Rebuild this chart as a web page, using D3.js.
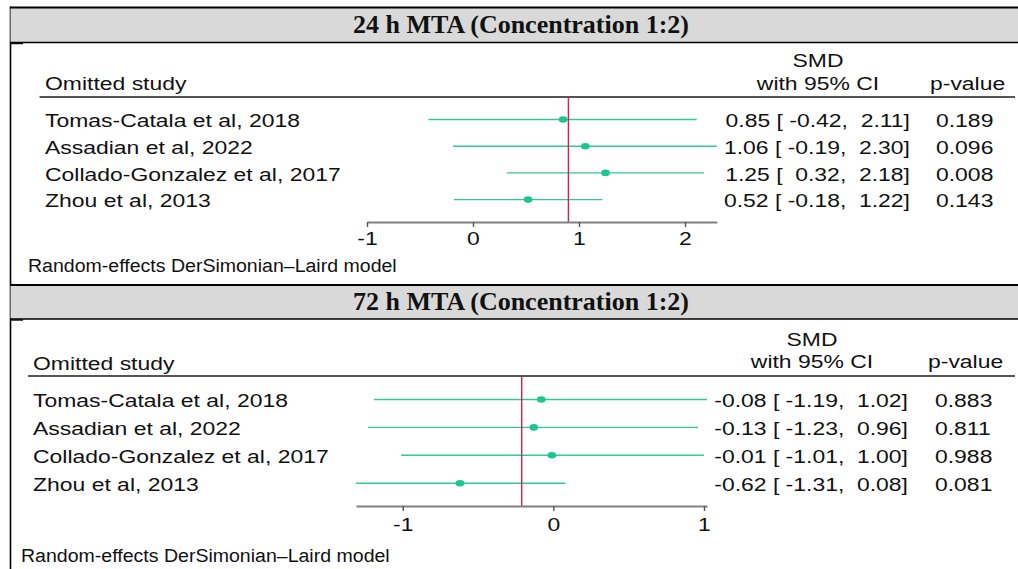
<!DOCTYPE html>
<html><head><meta charset="utf-8">
<script src="https://cdn.jsdelivr.net/npm/d3@7"></script>
<style>
html,body{margin:0;padding:0;background:#fff;}
svg{display:block;}
text{font-family:"Liberation Sans",Arial,sans-serif;fill:#111;white-space:pre;}
.title{font-family:"Liberation Serif","Times New Roman",serif;font-weight:bold;}
</style></head>
<body>
<svg id="chart" width="1018" height="569"></svg>
<script>
// ---- data ----
const studies = ["Tomas-Catala et al, 2018","Assadian et al, 2022","Collado-Gonzalez et al, 2017","Zhou et al, 2013"];

const title24 = "24 h MTA (Concentration 1:2)";
const est24 = [0.85, 1.06, 1.25, 0.52];
const lo24  = [-0.42, -0.19, 0.32, -0.18];
const hi24  = [2.11, 2.30, 2.18, 1.22];
const p24   = ["0.189", "0.096", "0.008", "0.143"];
const overall24 = 0.90;
const ticks24 = [-1, 0, 1, 2];

const title72 = "72 h MTA (Concentration 1:2)";
const est72 = [-0.08, -0.13, -0.01, -0.62];
const lo72  = [-1.19, -1.23, -1.01, -1.31];
const hi72  = [1.02, 0.96, 1.00, 0.08];
const p72   = ["0.883", "0.811", "0.988", "0.081"];
const overall72 = -0.21;
const ticks72 = [-1, 0, 1];

const noteText = "Random-effects DerSimonian\u2013Laird model";

// ---- layout ----
const SX = 1.24, FS = 18.5;
const svg = d3.select("#chart");
const green = "#1cc690", greenLine = "#33c995", red = "#d81e4f";

const layouts = [
  {top:7.5, hb:42.5, titleY:33, omX:45, omY:90, ruleX:39.5, ruleY:97, row0:119.5, step:26.7,
   axisY:222, range:[367,716.8], noteX:28, noteY:272, smdX:818, smdY:67, ciY:90, valX:910, pX:936, pHX:930},
  {top:285, hb:319, titleY:310, omX:33, omY:370, ruleX:28, ruleY:376, row0:399.5, step:27.9,
   axisY:506, range:[356,707], noteX:21, noteY:562, smdX:812, smdY:346, ciY:368, valX:908, pX:935, pHX:928}
];

const panels = [
  {title:title24, est:est24, lo:lo24, hi:hi24, p:p24, overall:overall24, ticks:ticks24},
  {title:title72, est:est72, lo:lo72, hi:hi72, p:p72, overall:overall72, ticks:ticks72}
];

function stext(g, x, y, str, anchor, fs, sx){
  return g.append("text")
    .attr("transform", `translate(${x},${y}) scale(${sx||SX},1)`)
    .attr("text-anchor", anchor||"start")
    .style("font-size", (fs||FS)+"px")
    .text(str);
}
function fmt(v){ return v.toFixed(2).padStart(6, " "); }

// left border line
svg.append("line").attr("x1",10.5).attr("x2",10.5).attr("y1",6.5).attr("y2",569)
  .attr("stroke","#000").attr("stroke-width",1.6);

panels.forEach((P,i)=>{
  const L = layouts[i];
  const g = svg.append("g");
  // header band
  g.append("rect").attr("x",10.5).attr("y",L.top).attr("width",1008).attr("height",L.hb-L.top).attr("fill","#d9d9d9");
  g.append("line").attr("x1",10).attr("x2",1018).attr("y1",L.top).attr("y2",L.top).attr("stroke","#000").attr("stroke-width",2);
  g.append("line").attr("x1",10).attr("x2",1018).attr("y1",L.hb).attr("y2",L.hb).attr("stroke","#000").attr("stroke-width",1.4);
  g.append("line").attr("x1",10).attr("x2",23).attr("y1",L.hb+1).attr("y2",L.hb+1).attr("stroke","#000").attr("stroke-width",1.4);
  g.append("text").attr("class","title").attr("x",521).attr("y",L.titleY).attr("text-anchor","middle")
    .style("font-size","26px").text(P.title);

  const lo = d3.min([P.ticks[0], d3.min(P.lo)]);
  const hi = d3.max([P.ticks[P.ticks.length-1], d3.max(P.hi)]);
  const x = d3.scaleLinear().domain([lo,hi]).range(L.range);
  const y = d3.scaleLinear().domain([0,1]).range([L.row0, L.row0+L.step]);

  // headers
  stext(g, L.omX, L.omY, "Omitted study");
  stext(g, L.smdX, L.smdY, "SMD", "middle");
  stext(g, L.smdX, L.ciY, "with 95% CI", "middle");
  stext(g, L.pHX, L.ciY, "p-value");
  g.append("line").attr("x1",L.ruleX).attr("x2",1015).attr("y1",L.ruleY).attr("y2",L.ruleY)
    .attr("stroke","#555").attr("stroke-width",1.8);

  // rows
  studies.forEach((s,j)=>{
    const yy = y(j);
    stext(g, L.omX, yy+7.8, s);
    g.append("line").attr("x1",x(P.lo[j])).attr("x2",x(P.hi[j])).attr("y1",yy).attr("y2",yy)
      .attr("stroke",greenLine).attr("stroke-width",1.4);
    stext(g, L.valX, yy+7.8, `${P.est[j].toFixed(2)} [${fmt(P.lo[j])},${fmt(P.hi[j])}]`, "end");
    stext(g, L.pX, yy+7.8, P.p[j]);
  });

  // overall line
  g.append("line").attr("x1",x(P.overall)).attr("x2",x(P.overall))
    .attr("y1",L.ruleY).attr("y2",L.axisY).attr("stroke",red).attr("stroke-width",1.4);

  // markers
  studies.forEach((s,j)=>{
    g.append("ellipse").attr("cx",x(P.est[j])).attr("cy",y(j)).attr("rx",4.3).attr("ry",3.3).attr("fill",green);
  });

  // axis
  const ax = g.append("g").attr("transform",`translate(0,${L.axisY})`)
    .call(d3.axisBottom(x).tickValues(P.ticks).tickSize(5).tickSizeOuter(0).tickFormat(d => String(d)));
  ax.select(".domain").attr("stroke","#808080").attr("stroke-width",1.8);
  ax.selectAll(".tick line").attr("stroke","#555").attr("stroke-width",1.4);
  ax.selectAll(".tick text").attr("y",0).attr("dy",0)
    .attr("transform",`translate(0,${i===0?23:25}) scale(${SX},1)`)
    .style("font-size",FS+"px").style("font-family","'Liberation Sans',Arial,sans-serif").attr("fill","#111");

  // note
  stext(g, L.noteX, L.noteY, noteText, "start", 18.8, 1.04);
});
</script>
</body></html>
